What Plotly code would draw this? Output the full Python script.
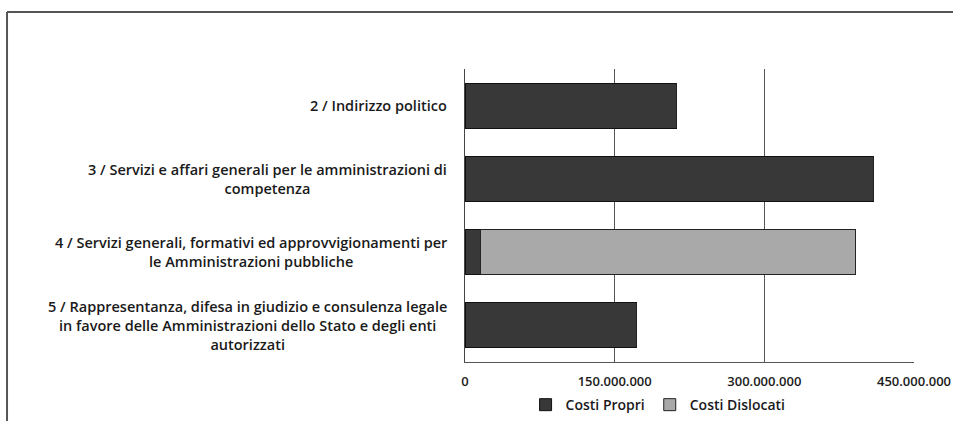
import plotly.graph_objects as go

categories = [
    "2 / Indirizzo politico",
    "3 / Servizi e affari generali per le amministrazioni di<br>competenza",
    "4 / Servizi generali, formativi ed approvvigionamenti per<br>le Amministrazioni pubbliche",
    "5 / Rappresentanza, difesa in giudizio e consulenza legale<br>in favore delle Amministrazioni dello Stato e degli enti<br>autorizzati",
]
costi_propri = [212_000_000, 409_000_000, 16_000_000, 172_000_000]
costi_dislocati = [0, 0, 375_000_000, 0]
tick_values = [0, 150_000_000, 300_000_000, 450_000_000]

FONT = "Open Sans"

fig = go.Figure()
fig.add_trace(go.Bar(
    y=categories, x=costi_propri, orientation="h", name="Costi Propri",
    marker=dict(color="#383838", line=dict(color="#111111", width=1)),
))
fig.add_trace(go.Bar(
    y=categories, x=costi_dislocati, orientation="h", name="Costi Dislocati",
    marker=dict(color="#a9a9a9", line=dict(color="#222222", width=1)),
))

# category labels: centred multi-line blocks, right edge next to the axis
for c in categories:
    fig.add_annotation(
        x=0, xref="paper", y=c, yref="y", text=c, showarrow=False,
        xanchor="right", yanchor="middle", align="center", xshift=-16,
        font=dict(family=FONT, size=14.5, color="#1a1a1a", weight=600),
    )

fig.update_layout(
    barmode="stack",
    bargap=0.385,
    width=953, height=421,
    margin=dict(l=465, r=39, t=69, b=59, autoexpand=False),
    paper_bgcolor="white", plot_bgcolor="white",
    separators=",.",
    font=dict(family=FONT, size=12, color="#222222"),
    legend=dict(orientation="h", x=0.43, xanchor="center", y=-0.147, yanchor="middle",
                font=dict(family=FONT, size=14, color="#1a1a1a", weight=600),
                itemwidth=30, traceorder="normal", tracegroupgap=0),
    xaxis=dict(range=[0, 450_000_000], tickvals=tick_values, tickformat=",d",
               showgrid=True, gridcolor="#555555", gridwidth=1,
               showline=True, linecolor="#555555", linewidth=1,
               zeroline=False, ticks="", ticklabelstandoff=7, automargin=False,
               tickfont=dict(family=FONT, size=13, color="#1a1a1a", weight=600)),
    yaxis=dict(autorange="reversed", showticklabels=False, showgrid=False,
               showline=True, linecolor="#444444", linewidth=1, ticks="",
               automargin=False),
)

# outer frame (top and left border of the scanned chart box)
fig.add_shape(type="line", xref="paper", yref="paper",
              x0=-1.02, x1=1.2, y0=1.1945, y1=1.1945,
              line=dict(color="#555555", width=2))
fig.add_shape(type="line", xref="paper", yref="paper",
              x0=-1.02, x1=-1.02, y0=1.1945, y1=-0.3,
              line=dict(color="#555555", width=2))

fig.write_html(
    "out.html",
    config={"displayModeBar": False},
    post_script="document.body.style.margin='0';document.body.style.overflow='hidden';",
)
